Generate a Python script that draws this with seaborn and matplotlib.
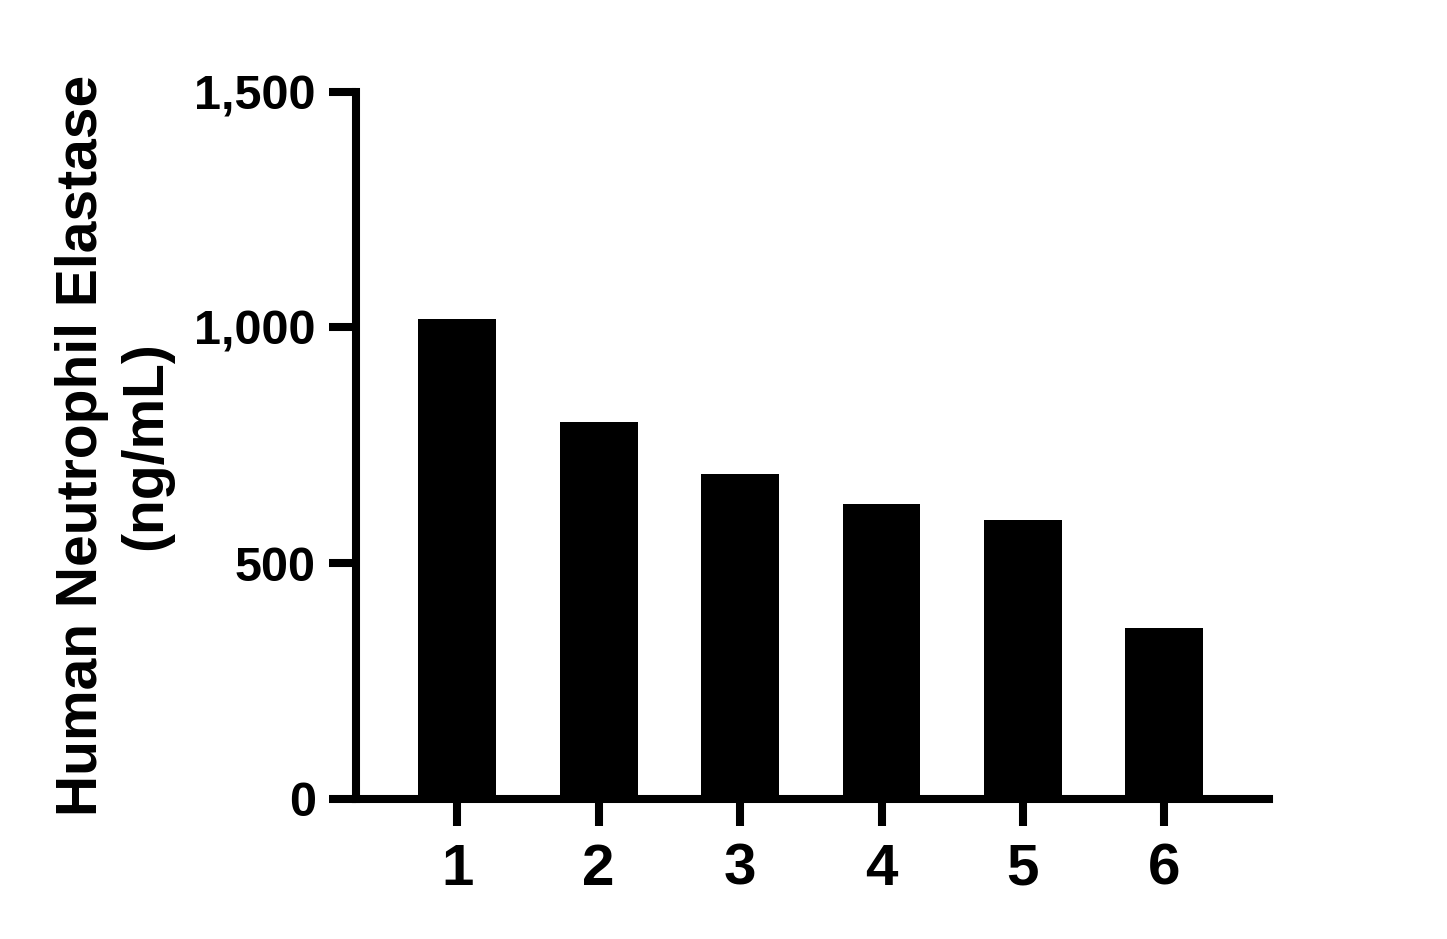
import numpy as np
import pandas as pd
import matplotlib
matplotlib.use('Agg')
import matplotlib.pyplot as plt
import seaborn as sns

# sample numbers and measured elastase values (ng/mL)
samples = ['1', '2', '3', '4', '5', '6']
elastase = [1018, 800, 690, 625, 591, 363]

y_ticks = [0, 500, 1000, 1500]
y_tick_labels = ['0', '500', '1,000', '1,500']

df = pd.DataFrame({'sample': samples, 'elastase': elastase})

sns.set_style('ticks')
plt.rcParams['font.family'] = ['Liberation Sans', 'DejaVu Sans']
plt.rcParams['font.weight'] = 'bold'
plt.rcParams['text.color'] = 'black'
plt.rcParams['axes.labelcolor'] = 'black'
plt.rcParams['xtick.color'] = 'black'
plt.rcParams['ytick.color'] = 'black'

fig = plt.figure(figsize=(14.47, 9.39), dpi=100)
ax = fig.add_axes([0.2457, 0.1493, 0.8770 - 0.2457, 0.9022 - 0.1493])

sns.barplot(data=df, x='sample', y='elastase', color='black', width=0.55,
            saturation=1, ax=ax, edgecolor='none')

ax.set_xlim(-0.72, 5.74)
ax.set_ylim(0, 1500)
ax.set_yticks(y_ticks)
ax.set_yticklabels(y_tick_labels)

# Prism-like heavy axes
for side in ['top', 'right']:
    ax.spines[side].set_visible(False)
for side in ['left', 'bottom']:
    ax.spines[side].set_linewidth(5.8)
    ax.spines[side].set_color('black')
    ax.spines[side].set_capstyle('projecting')

ax.tick_params(axis='both', direction='out', length=19.5, width=5.8,
               color='black', labelcolor='black')
ax.tick_params(axis='y', labelsize=35, pad=9)
ax.tick_params(axis='x', labelsize=42, pad=12)
for lab in ax.get_xticklabels() + ax.get_yticklabels():
    lab.set_fontweight('bold')

ax.set_xlabel('')
ax.set_ylabel('Human Neutrophil Elastase\n(ng/mL)', fontsize=41, fontweight='bold',
              labelpad=15, linespacing=1.25, color='black')

fig.savefig('out.png', dpi=100)
